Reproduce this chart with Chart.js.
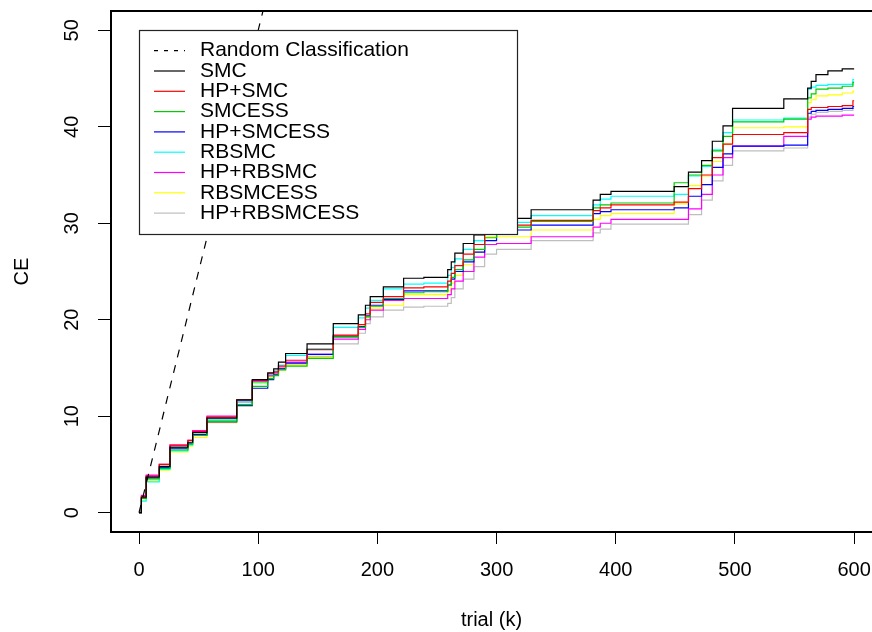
<!DOCTYPE html>
<html>
<head>
<meta charset="utf-8">
<script src="https://cdn.jsdelivr.net/npm/chart.js@4.4.1/dist/chart.umd.min.js"></script>
<style>
  body { margin: 0; background: #fff; }
</style>
</head>
<body>
<canvas id="ceChart" width="872" height="632"></canvas>
<script>
'use strict';

// step points (trial, k) shared by all methods
var trials = [0, 2, 6, 17, 26, 41, 45, 57, 82, 95, 108, 113, 117, 123, 141, 163, 184, 190, 194, 205,
    222, 239, 259, 262, 265, 272, 281, 290, 300, 329, 381, 387, 396, 449, 461, 472, 481, 490, 498,
    541, 561, 564, 568, 578, 590, 599, 600];

var smc        = [0, 1.6, 3.7, 4.8, 6.8, 7.3, 8.3, 9.8, 11.7, 13.8, 14.5, 14.9, 15.6, 16.5, 17.5, 19.6, 20.5, 21.5, 22.4, 23.4,
    24.3, 24.4, 25.2, 26.0, 26.9, 27.9, 28.8, 29.6, 30.5, 31.4, 32.4, 33.0, 33.3, 33.8, 35.3, 36.5, 38.5, 40.1, 41.9,
    42.9, 44.0, 44.7, 45.4, 45.8, 46.0, 46.0, 46.0];
var hpSmc      = [0, 1.7, 3.8, 5.0, 7.0, 7.5, 8.4, 9.9, 11.7, 13.7, 14.4, 14.6, 15.2, 15.8, 16.9, 18.4, 19.5, 20.6, 21.8, 22.4,
    23.3, 23.4, 24.0, 24.8, 25.6, 26.8, 27.8, 28.9, 29.8, 30.3, 31.3, 31.6, 31.9, 32.2, 33.6, 35.0, 36.8, 38.2, 39.2,
    39.4, 41.8, 42.0, 42.0, 42.1, 42.2, 42.7, 42.7];
var smcEss     = [0, 1.5, 3.5, 4.6, 6.5, 7.1, 8.0, 9.5, 11.2, 13.1, 13.9, 14.2, 14.8, 15.2, 16.0, 18.2, 19.2, 20.3, 21.4, 22.2,
    22.8, 22.9, 23.6, 24.4, 25.2, 26.2, 27.3, 28.5, 29.6, 30.2, 31.6, 31.9, 32.1, 34.2, 35.0, 36.0, 37.5, 39.0, 40.5,
    40.8, 43.0, 43.4, 43.9, 44.0, 44.2, 44.6, 44.6];
var hpSmcEss   = [0, 1.5, 3.6, 4.7, 6.7, 7.2, 8.1, 9.4, 11.1, 12.9, 13.8, 14.3, 14.9, 15.5, 16.4, 18.3, 19.3, 20.4, 21.5, 22.1,
    23.0, 23.0, 23.6, 24.2, 25.0, 26.0, 27.0, 28.2, 29.3, 29.8, 31.0, 31.2, 31.4, 31.6, 32.8, 34.0, 35.8, 37.2, 38.0,
    38.1, 41.4, 41.6, 41.7, 41.8, 41.9, 42.1, 42.1];
var rbSmc      = [0, 1.2, 3.2, 4.5, 6.4, 7.0, 8.0, 9.6, 11.5, 13.5, 14.3, 14.7, 15.3, 16.3, 17.0, 19.2, 20.2, 21.2, 22.0, 23.2,
    23.7, 23.8, 24.6, 25.4, 26.3, 27.3, 28.2, 29.2, 30.1, 30.8, 31.9, 32.5, 32.8, 33.0, 34.9, 35.9, 37.6, 39.4, 40.7,
    40.9, 43.9, 44.1, 44.3, 44.4, 44.4, 44.9, 44.9];
var hpRbSmc    = [0, 1.8, 3.9, 5.0, 7.0, 7.5, 8.5, 10.0, 11.6, 13.6, 14.2, 14.5, 15.0, 15.6, 16.4, 18.0, 19.0, 20.0, 21.0, 22.0,
    22.2, 22.2, 22.6, 23.2, 24.0, 25.0, 26.5, 27.8, 27.9, 28.6, 29.6, 30.0, 30.4, 30.4, 31.5, 33.0, 35.0, 36.8, 38.0,
    39.0, 40.8, 41.0, 41.1, 41.1, 41.2, 41.2, 41.2];
var rbSmcEss   = [0, 1.3, 3.3, 4.4, 6.3, 6.9, 7.8, 9.3, 11.1, 13.4, 14.0, 14.3, 14.8, 15.3, 16.1, 18.2, 19.2, 20.2, 21.2, 21.5,
    22.6, 22.6, 23.0, 23.8, 24.6, 25.7, 27.0, 28.6, 28.6, 29.3, 30.4, 30.8, 31.0, 32.0, 33.9, 34.9, 36.4, 38.2, 39.9,
    40.0, 42.5, 42.8, 43.2, 43.3, 43.5, 43.7, 43.7];
var hpRbSmcEss = [0, 1.5, 3.5, 4.7, 6.6, 7.1, 8.1, 9.7, 11.4, 13.7, 14.1, 14.4, 14.9, 15.4, 16.2, 17.5, 18.6, 19.6, 20.3, 21.0,
    21.3, 21.4, 21.7, 22.3, 23.2, 24.2, 25.5, 26.8, 27.3, 28.2, 29.0, 29.4, 29.9, 29.9, 30.9, 32.4, 34.4, 36.0, 37.5,
    37.8, 41.0, 41.3, 41.5, 41.6, 41.7, 41.9, 41.9];

// random classification: half of the trials wrong
var randomTrials = [0, 600];
var randomCE     = [0, 300];

var xTicks = [0, 100, 200, 300, 400, 500, 600];
var yTicks = [0, 10, 20, 30, 40, 50];

var FONT = '"Liberation Sans", Arial, Helvetica, sans-serif';

function toPoints(xs, ys) {
    return xs.map(function (x, i) { return { x: x, y: ys[i] }; });
}

function stepSet(label, values, color) {
    return {
        label: label,
        data: toPoints(trials, values),
        borderColor: color,
        borderWidth: 1.2,
        stepped: true,
        pointRadius: 0,
        fill: false
    };
}

function noPad(s) {
    s.paddingLeft = 0;
    s.paddingRight = 0;
    s.paddingTop = 0;
    s.paddingBottom = 0;
}

// R-style legend box inside the plot, white background over the lines
var boxLegend = {
    id: 'boxLegend',
    afterDatasetsDraw: function (chart) {
        var ctx = chart.ctx, area = chart.chartArea;
        var left = area.left + 28, top = area.top + 19, w = 378, h = 204;
        var rowH = 20.3;
        ctx.save();
        ctx.fillStyle = '#fff';
        ctx.fillRect(left, top, w, h);
        ctx.strokeStyle = '#222';
        ctx.lineWidth = 1.2;
        ctx.strokeRect(left + 0.5, top + 0.5, w, h);
        ctx.font = '21px ' + FONT;
        ctx.textBaseline = 'middle';
        ctx.fillStyle = '#000';
        chart.data.datasets.forEach(function (ds, i) {
            var y = top + 20.7 + i * rowH;
            ctx.beginPath();
            ctx.strokeStyle = ds.borderColor;
            ctx.lineWidth = 1.2;
            ctx.setLineDash(ds.borderDash ? [4, 6] : []);
            ctx.moveTo(left + 15, y);
            ctx.lineTo(left + 46, y);
            ctx.stroke();
            ctx.setLineDash([]);
            ctx.fillText(ds.label, left + 61, y);
        });
        ctx.restore();
    },
    afterDraw: function (chart) {
        var ctx = chart.ctx, area = chart.chartArea;
        ctx.save();
        ctx.strokeStyle = '#000';
        ctx.lineWidth = 2;
        ctx.strokeRect(area.left, area.top, area.right - area.left + 20, area.bottom - area.top);
        ctx.restore();
    }
};

var ctxEl = document.getElementById('ceChart');

var ceChart = new Chart(ctxEl, {
    type: 'line',
    data: {
        datasets: [
            {
                label: 'Random Classification',
                data: toPoints(randomTrials, randomCE),
                borderColor: '#000',
                borderWidth: 1.2,
                borderDash: [8, 8],
                pointRadius: 0,
                fill: false
            },
            stepSet('SMC', smc, '#000000'),
            stepSet('HP+SMC', hpSmc, '#FF0000'),
            stepSet('SMCESS', smcEss, '#00CD00'),
            stepSet('HP+SMCESS', hpSmcEss, '#0000FF'),
            stepSet('RBSMC', rbSmc, '#00FFFF'),
            stepSet('HP+RBSMC', hpRbSmc, '#FF00FF'),
            stepSet('RBSMCESS', rbSmcEss, '#FFFF00'),
            stepSet('HP+RBSMCESS', hpRbSmcEss, '#BEBEBE')
        ]
    },
    options: {
        responsive: false,
        animation: false,
        devicePixelRatio: 1,
        layout: { padding: { top: 11, right: 0, left: 0, bottom: 0 } },
        plugins: {
            legend: { display: false },
            tooltip: { enabled: false }
        },
        scales: {
            x: {
                type: 'linear',
                min: -23.5,
                max: 615,
                afterBuildTicks: function (s) { s.ticks = xTicks.map(function (v) { return { value: v }; }); },
                afterFit: function (s) { s.height = 100; noPad(s); },
                grid: { drawOnChartArea: false, tickLength: 12, tickColor: '#000', tickWidth: 1 },
                border: { display: false },
                ticks: { color: '#000', font: { family: FONT, size: 20 }, padding: 14, maxRotation: 0 },
                title: { display: true, text: 'trial (k)', color: '#000', font: { family: FONT, size: 20 }, padding: 0 }
            },
            y: {
                type: 'linear',
                min: -2,
                max: 52,
                afterBuildTicks: function (s) { s.ticks = yTicks.map(function (v) { return { value: v }; }); },
                afterFit: function (s) { s.width = 111; noPad(s); },
                grid: { drawOnChartArea: false, tickLength: 13, tickColor: '#000', tickWidth: 1 },
                border: { display: false },
                ticks: { color: '#000', font: { family: FONT, size: 20 }, padding: 14, minRotation: 90, maxRotation: 90, crossAlign: 'center' },
                title: { display: true, text: 'CE', color: '#000', font: { family: FONT, size: 20 }, padding: 10 }
            }
        }
    },
    plugins: [boxLegend]
});
</script>
</body>
</html>
